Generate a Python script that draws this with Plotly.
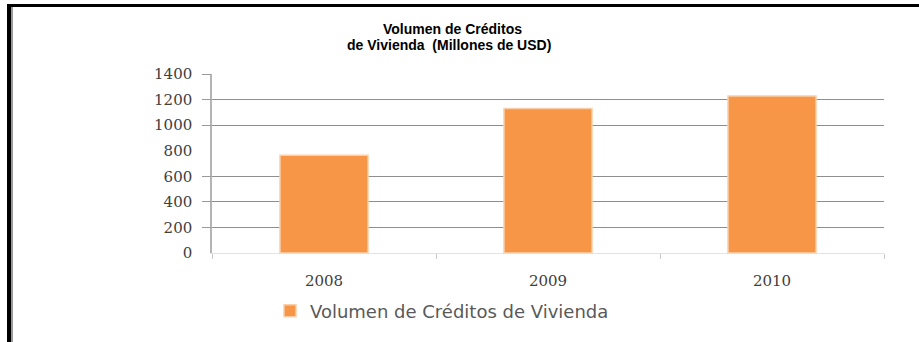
import plotly.graph_objects as go

# Housing credit volume, millions of USD
years = ["2008", "2009", "2010"]
volumen = [765, 1130, 1228]

y_ticks = [0, 200, 400, 600, 800, 1000, 1200, 1400]
grid_ticks = [200, 400, 600, 1000, 1200, 1400]

serie = "Volumen de Créditos de Vivienda"
titulo_1 = "Volumen de Créditos"
titulo_2 = "de Vivienda\u00a0 (Millones de USD)"

W, H = 919, 342
M_L, M_R, M_T, M_B = 212, 35, 74, 89
PW, PH = W - M_L - M_R, H - M_T - M_B


def px_x(px):
    return (px - M_L) / PW


def px_y(py):
    return (H - M_B - py) / PH


fig = go.Figure()

# helper trace that anchors the gridline axis
fig.add_trace(go.Scatter(
    x=years, y=volumen, mode="markers", marker=dict(opacity=0),
    showlegend=False, hoverinfo="skip", xaxis="x", yaxis="y",
))

fig.add_trace(go.Bar(
    x=years, y=volumen, name=serie, xaxis="x", yaxis="y2",
    marker=dict(color="#F79646", line=dict(color="#FBCFAA", width=1.5)),
))

tick_font = dict(family="DejaVu Serif", size=15, color="#404040")
title_font = dict(family="Liberation Sans", size=14, color="black", weight="bold")

fig.update_layout(
    width=W, height=H,
    margin=dict(l=M_L, r=M_R, t=M_T, b=M_B, pad=0),
    paper_bgcolor="white", plot_bgcolor="white",
    bargap=0.607,
    showlegend=True,
    legend=dict(
        orientation="h", x=px_x(270), xanchor="left",
        y=px_y(311), yanchor="middle",
        font=dict(family="DejaVu Sans", size=18, color="#595959"),
        bgcolor="rgba(0,0,0,0)",
    ),
    xaxis=dict(
        type="category", tickson="boundaries", ticks="outside",
        ticklen=5, tickcolor="#c8c8c8", showgrid=False,
        showline=True, linecolor="#e2e2e2", linewidth=1,
        tickfont=tick_font, ticklabelstandoff=14, zeroline=False,
    ),
    yaxis=dict(
        range=[0, 1400], tickvals=grid_ticks, showticklabels=False,
        ticks="outside", ticklen=9, tickcolor="#9a9a9a",
        showgrid=True, gridcolor="#8f8f8f", gridwidth=1,
        zeroline=False, showline=False,
    ),
    yaxis2=dict(
        range=[0, 1400], overlaying="y", side="left",
        tickvals=y_ticks, ticktext=[str(v) for v in y_ticks],
        ticks="", showgrid=False, zeroline=False,
        showline=True, linecolor="#b4b4b4", linewidth=1.5,
        tickfont=tick_font, ticklabelstandoff=15,
    ),
    annotations=[
        dict(text=titulo_1, xref="paper", yref="paper",
             x=px_x(452), y=px_y(29), xanchor="center", yanchor="middle",
             showarrow=False, font=title_font),
        dict(text=titulo_2, xref="paper", yref="paper",
             x=px_x(449), y=px_y(45), xanchor="center", yanchor="middle",
             showarrow=False, font=title_font),
    ],
    shapes=[
        # frame edges along the top and left of the page
        dict(type="line", xref="paper", yref="paper",
             x0=px_x(7), x1=px_x(919), y0=px_y(5.5), y1=px_y(5.5),
             line=dict(color="black", width=3)),
        dict(type="line", xref="paper", yref="paper",
             x0=px_x(9), x1=px_x(9), y0=px_y(4), y1=px_y(342),
             line=dict(color="black", width=4)),
        dict(type="line", xref="paper", yref="paper",
             x0=px_x(12), x1=px_x(12), y0=px_y(7), y1=px_y(342),
             line=dict(color="#9a9a9a", width=2)),
    ],
)

fig.write_html("out.html")
